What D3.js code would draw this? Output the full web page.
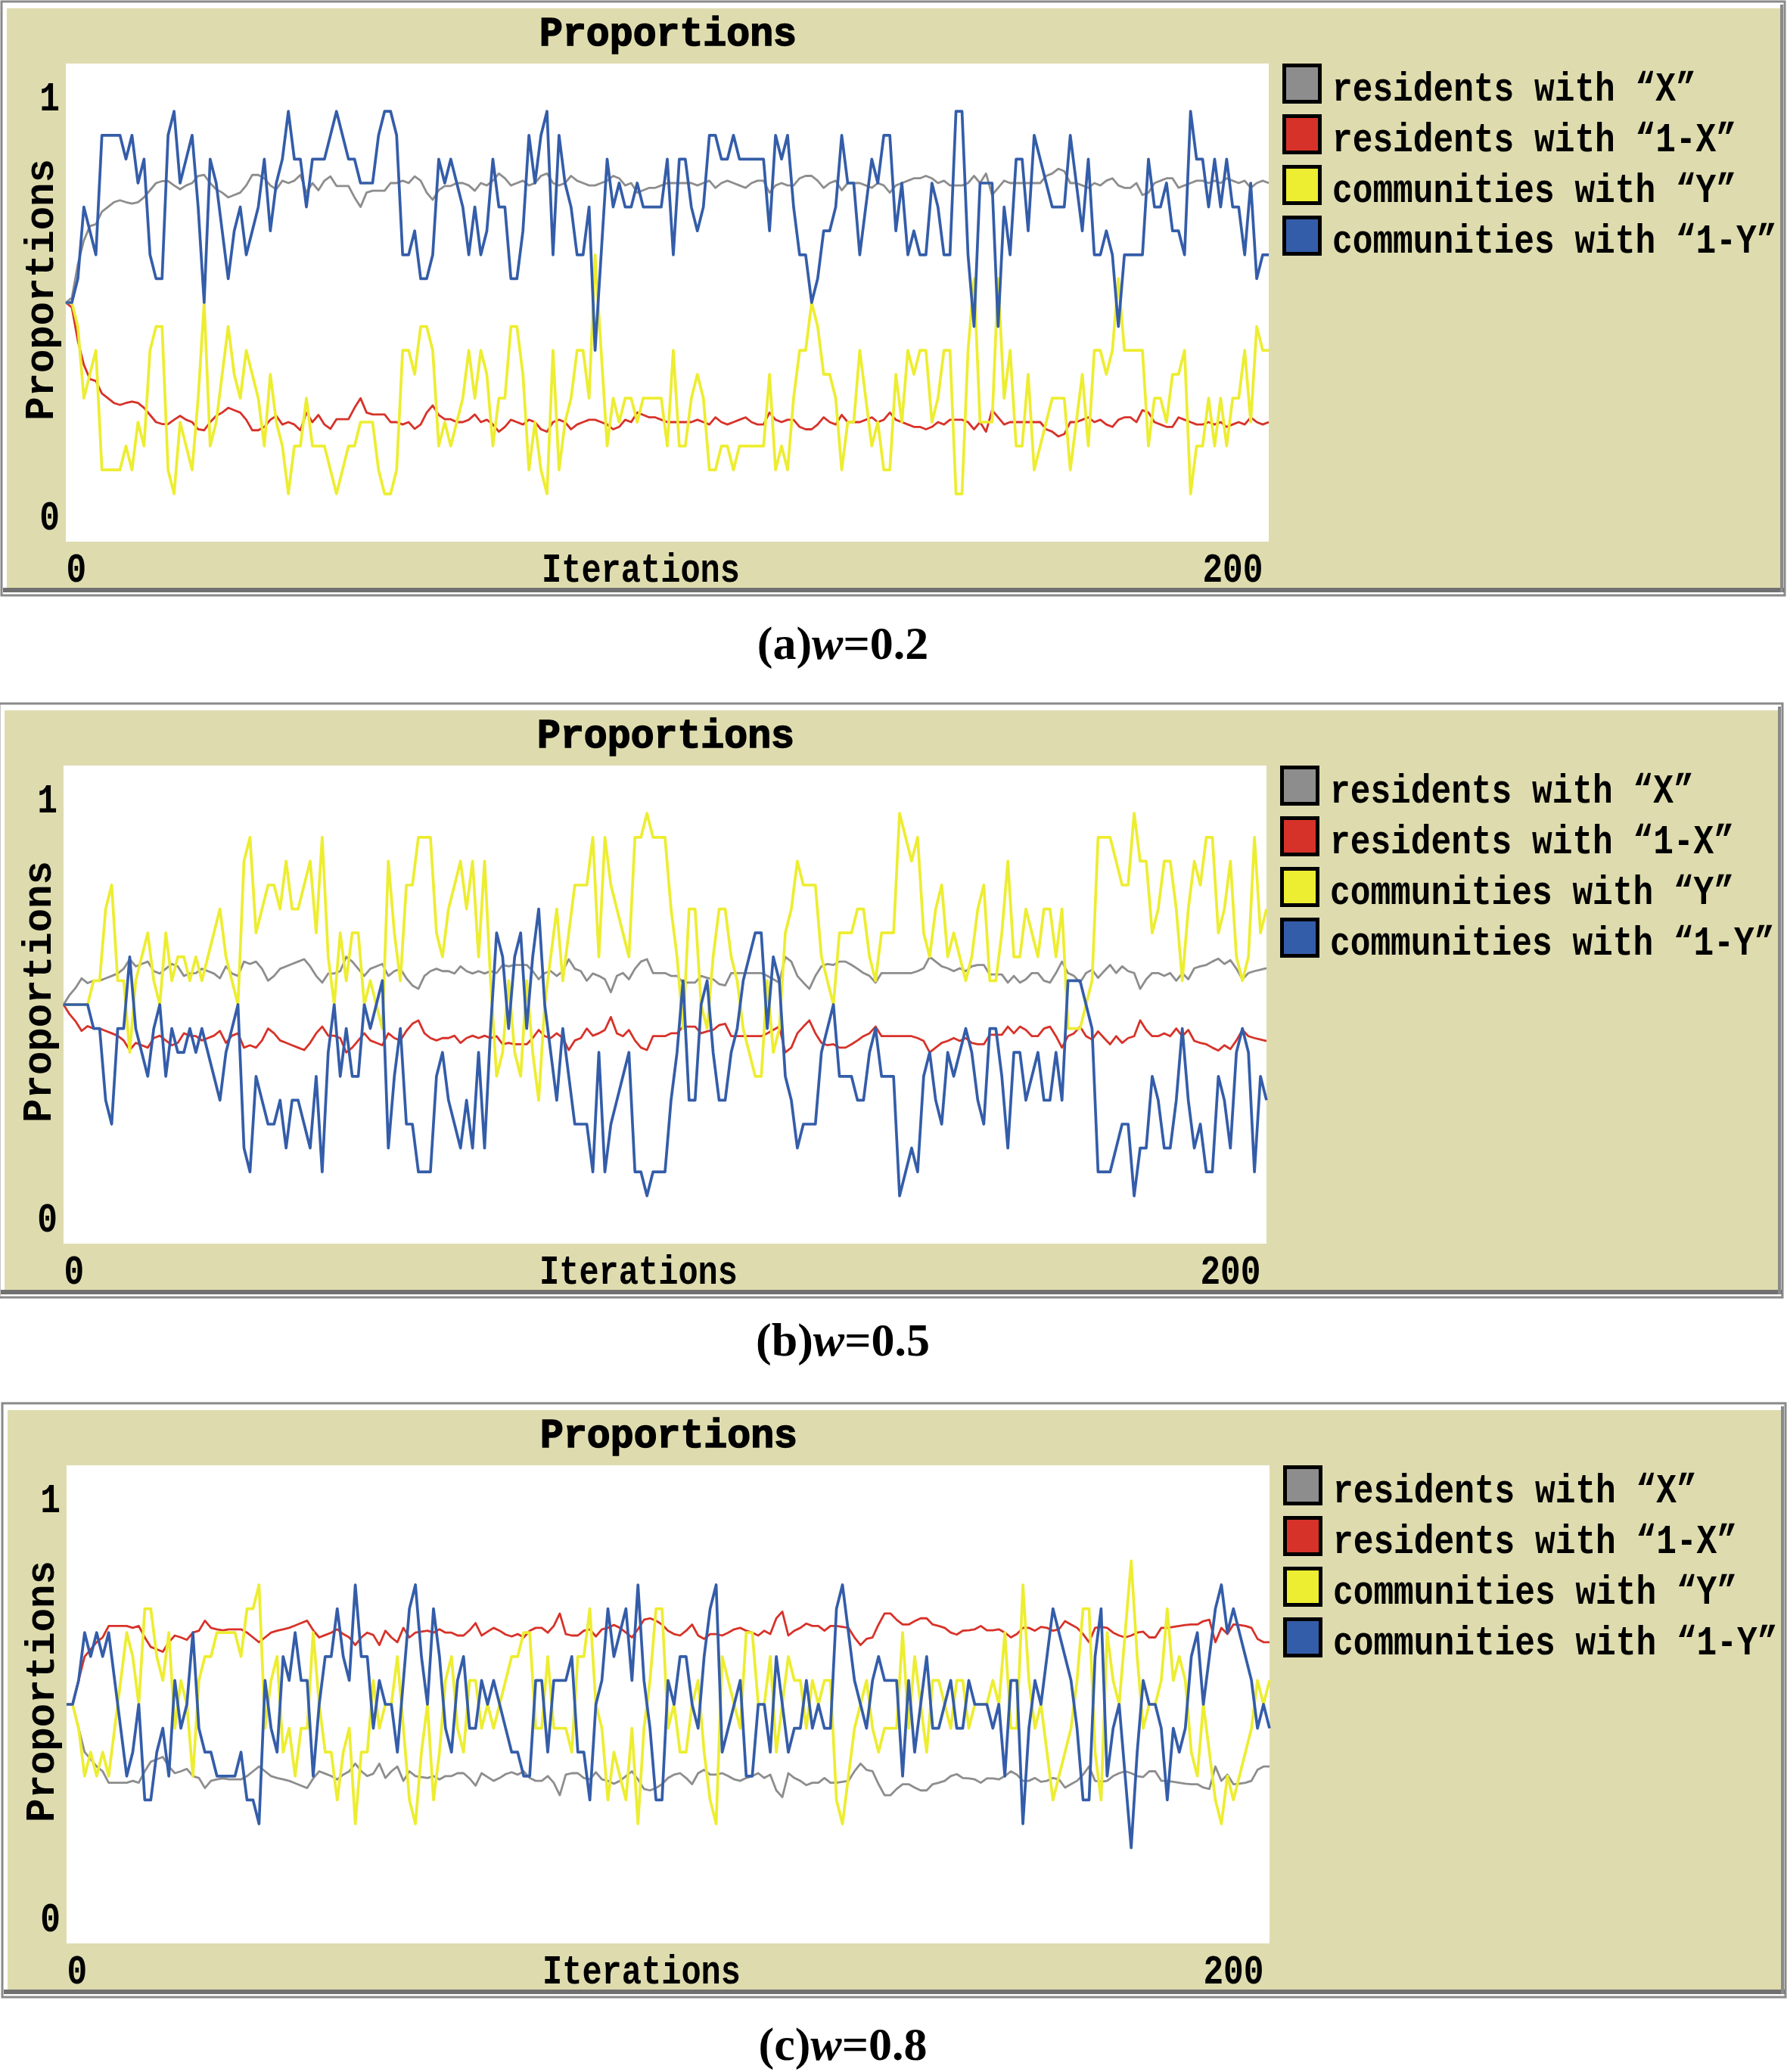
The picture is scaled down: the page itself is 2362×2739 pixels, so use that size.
<!DOCTYPE html>
<html><head><meta charset="utf-8">
<script src="https://cdn.jsdelivr.net/npm/d3@7"></script>
<style>body{margin:0;background:#fff}</style>
</head><body>
<script>
// ---------------- DATA ----------------
const iterations = d3.range(0, 201);
const seriesNames = ['residents with “X”', 'residents with “1-X”', 'communities with “Y”', 'communities with “1-Y”'];
const chartTitle = 'Proportions';
const yAxisLabel = 'Proportions';
const xAxisLabel = 'Iterations';
const xTickValues = [0, 200];
const xTickLabels = ['0', '200'];
const yTickValues = [0, 1];
const yTickLabels = ['0', '1'];
const captionLetters = ['(a)', '(b)', '(c)'];
const captionWeights = ['0.2', '0.5', '0.8'];

// ---- panel (a) w=0.2 ----
const grayA = [
.5,.51,.58,.63,.66,.664,.69,.70,.71,.714,
.71,.707,.71,.72,.735,.75,.754,.754,.745,.737,
.745,.75,.765,.767,.75,.737,.73,.72,.725,.73,
.745,.767,.767,.76,.745,.737,.755,.75,.755,.767,
.73,.75,.735,.755,.764,.744,.744,.744,.72,.70,
.73,.734,.734,.734,.75,.75,.755,.75,.764,.755,
.73,.715,.735,.744,.744,.75,.75,.745,.734,.75,
.745,.755,.77,.76,.745,.75,.755,.745,.75,.765,
.77,.75,.745,.75,.765,.755,.75,.745,.745,.75,
.755,.765,.76,.745,.75,.73,.735,.74,.74,.745,
.75,.75,.75,.75,.75,.745,.75,.755,.74,.75,
.755,.75,.745,.74,.75,.755,.755,.73,.745,.75,
.745,.745,.76,.765,.765,.755,.74,.75,.755,.735,
.75,.75,.75,.745,.74,.75,.745,.73,.745,.75,
.755,.76,.76,.765,.76,.75,.755,.745,.745,.745,
.75,.765,.75,.77,.725,.74,.755,.75,.75,.75,
.75,.75,.75,.765,.77,.78,.775,.75,.75,.745,
.74,.75,.745,.755,.76,.745,.74,.74,.75,.725,
.73,.75,.755,.76,.76,.74,.745,.75,.755,.755,
.75,.755,.75,.76,.755,.75,.755,.74,.75,.755,
.75];
const redA = [
.5,.49,.42,.37,.34,.336,.31,.30,.29,.286,
.29,.293,.29,.28,.265,.25,.246,.246,.255,.263,
.255,.25,.235,.233,.25,.263,.27,.28,.275,.27,
.255,.233,.233,.24,.255,.263,.245,.25,.245,.233,
.27,.25,.265,.245,.236,.256,.256,.256,.28,.30,
.27,.266,.266,.266,.25,.25,.245,.25,.236,.245,
.27,.285,.265,.256,.256,.25,.25,.255,.266,.25,
.255,.245,.23,.24,.255,.25,.245,.255,.25,.235,
.23,.25,.255,.25,.235,.245,.25,.255,.255,.25,
.245,.235,.24,.255,.25,.27,.265,.26,.26,.255,
.25,.25,.25,.25,.25,.255,.25,.245,.26,.25,
.245,.25,.255,.26,.25,.245,.245,.27,.255,.25,
.255,.255,.24,.235,.235,.245,.26,.25,.245,.265,
.25,.25,.25,.255,.26,.25,.255,.27,.255,.25,
.245,.24,.24,.235,.24,.25,.245,.255,.255,.255,
.25,.235,.25,.23,.275,.26,.245,.25,.25,.25,
.25,.25,.25,.235,.23,.22,.225,.25,.25,.255,
.26,.25,.255,.245,.24,.255,.26,.26,.25,.275,
.27,.25,.245,.24,.24,.26,.255,.25,.245,.245,
.25,.245,.25,.24,.245,.25,.245,.26,.25,.245,
.25];
const yellowA = [
.5,.5,.45,.3,.35,.4,.15,.15,.15,.15,
.2,.15,.25,.2,.4,.45,.45,.15,.1,.25,
.2,.15,.3,.5,.2,.25,.35,.45,.35,.3,
.4,.35,.3,.2,.35,.25,.2,.1,.2,.2,
.3,.2,.2,.2,.15,.1,.15,.2,.2,.25,
.25,.25,.15,.1,.1,.15,.4,.4,.35,.45,
.45,.4,.2,.25,.2,.25,.3,.4,.3,.4,
.35,.2,.3,.3,.45,.45,.35,.15,.25,.15,
.1,.4,.15,.25,.3,.4,.4,.3,.6,.4,
.2,.3,.25,.3,.3,.25,.3,.3,.3,.3,
.2,.4,.2,.2,.3,.35,.3,.15,.15,.2,
.2,.15,.2,.2,.2,.2,.2,.35,.15,.2,
.15,.3,.4,.4,.5,.45,.35,.35,.3,.15,
.25,.25,.4,.3,.2,.25,.15,.15,.35,.25,
.4,.35,.4,.4,.25,.3,.4,.4,.1,.1,
.4,.55,.25,.25,.25,.55,.3,.4,.2,.2,
.35,.15,.2,.25,.3,.3,.3,.15,.25,.35,
.2,.4,.4,.35,.4,.55,.4,.4,.4,.4,
.2,.3,.3,.25,.35,.35,.4,.1,.2,.2,
.3,.2,.3,.2,.3,.3,.4,.25,.45,.4,
.4];
const blueA = [
.5,.5,.55,.7,.65,.6,.85,.85,.85,.85,
.8,.85,.75,.8,.6,.55,.55,.85,.9,.75,
.8,.85,.7,.5,.8,.75,.65,.55,.65,.7,
.6,.65,.7,.8,.65,.75,.8,.9,.8,.8,
.7,.8,.8,.8,.85,.9,.85,.8,.8,.75,
.75,.75,.85,.9,.9,.85,.6,.6,.65,.55,
.55,.6,.8,.75,.8,.75,.7,.6,.7,.6,
.65,.8,.7,.7,.55,.55,.65,.85,.75,.85,
.9,.6,.85,.75,.7,.6,.6,.7,.4,.6,
.8,.7,.75,.7,.7,.75,.7,.7,.7,.7,
.8,.6,.8,.8,.7,.65,.7,.85,.85,.8,
.8,.85,.8,.8,.8,.8,.8,.65,.85,.8,
.85,.7,.6,.6,.5,.55,.65,.65,.7,.85,
.75,.75,.6,.7,.8,.75,.85,.85,.65,.75,
.6,.65,.6,.6,.75,.7,.6,.6,.9,.9,
.6,.45,.75,.75,.75,.45,.7,.6,.8,.8,
.65,.85,.8,.75,.7,.7,.7,.85,.75,.65,
.8,.6,.6,.65,.6,.45,.6,.6,.6,.6,
.8,.7,.7,.75,.65,.65,.6,.9,.8,.8,
.7,.8,.7,.8,.7,.7,.6,.75,.55,.6,
.6];

// ---- panel (b) w=0.5 ----
const grayB = [
.5,.52,.535,.555,.545,.55,.55,.555,.56,.565,
.575,.595,.58,.585,.59,.57,.565,.575,.585,.58,
.56,.565,.566,.575,.57,.565,.555,.58,.565,.56,
.59,.585,.59,.575,.55,.56,.575,.58,.585,.59,
.595,.58,.56,.546,.565,.565,.57,.6,.59,.575,
.56,.575,.58,.585,.56,.57,.575,.555,.54,.533,
.56,.57,.575,.57,.57,.565,.58,.57,.565,.57,
.565,.57,.566,.583,.58,.583,.583,.583,.57,.553,
.566,.57,.56,.57,.595,.575,.57,.55,.565,.56,
.553,.526,.56,.566,.553,.575,.59,.595,.566,.566,
.566,.56,.56,.546,.546,.546,.56,.556,.553,.543,
.54,.566,.566,.566,.566,.566,.566,.56,.553,.546,
.6,.59,.56,.546,.533,.56,.58,.585,.583,.59,
.59,.583,.575,.566,.56,.546,.566,.566,.566,.566,
.566,.566,.57,.576,.6,.59,.58,.576,.57,.576,
.57,.58,.583,.583,.563,.563,.563,.546,.56,.546,
.553,.566,.566,.55,.546,.566,.59,.566,.56,.546,
.566,.573,.556,.57,.583,.566,.58,.57,.566,.533,
.553,.566,.566,.56,.566,.55,.566,.553,.576,.58,
.583,.59,.596,.585,.593,.575,.553,.566,.57,.573,
.576];
const redB = [
.5,.48,.465,.445,.455,.45,.45,.445,.44,.435,
.425,.405,.42,.415,.41,.43,.435,.425,.415,.42,
.44,.435,.434,.425,.43,.435,.445,.42,.435,.44,
.41,.415,.41,.425,.45,.44,.425,.42,.415,.41,
.405,.42,.44,.454,.435,.435,.43,.40,.41,.425,
.44,.425,.42,.415,.44,.43,.425,.445,.46,.467,
.44,.43,.425,.43,.43,.435,.42,.43,.435,.43,
.435,.43,.434,.417,.42,.417,.417,.417,.43,.447,
.434,.43,.44,.43,.405,.425,.43,.45,.435,.44,
.447,.474,.44,.434,.447,.425,.41,.405,.434,.434,
.434,.44,.44,.454,.454,.454,.44,.444,.447,.457,
.46,.434,.434,.434,.434,.434,.434,.44,.447,.454,
.40,.41,.44,.454,.467,.44,.42,.415,.417,.41,
.41,.417,.425,.434,.44,.454,.434,.434,.434,.434,
.434,.434,.43,.424,.40,.41,.42,.424,.43,.424,
.43,.42,.417,.417,.437,.437,.437,.454,.44,.454,
.447,.434,.434,.45,.454,.434,.41,.434,.44,.454,
.434,.427,.444,.43,.417,.434,.42,.43,.434,.467,
.447,.434,.434,.44,.434,.45,.434,.447,.424,.42,
.417,.41,.404,.415,.407,.425,.447,.434,.43,.427,
.424];
const yellowB = [
.5,.5,.5,.5,.5,.55,.55,.7,.75,.55,
.55,.4,.55,.6,.65,.55,.5,.65,.55,.6,
.6,.55,.6,.55,.6,.65,.7,.6,.55,.5,
.8,.85,.65,.7,.75,.75,.7,.8,.7,.7,
.75,.8,.65,.85,.6,.5,.65,.55,.65,.65,
.5,.55,.5,.45,.8,.65,.55,.75,.75,.85,
.85,.85,.65,.6,.7,.75,.8,.7,.8,.6,
.8,.55,.35,.4,.55,.4,.35,.55,.4,.3,
.5,.6,.7,.55,.65,.75,.75,.75,.85,.6,
.85,.75,.7,.65,.6,.85,.85,.9,.85,.85,
.85,.7,.6,.45,.7,.7,.5,.45,.6,.7,
.7,.6,.55,.45,.4,.35,.35,.55,.4,.45,
.65,.7,.8,.75,.75,.75,.6,.55,.5,.65,
.65,.65,.7,.7,.6,.55,.65,.65,.65,.9,
.85,.8,.85,.65,.6,.7,.75,.6,.65,.6,
.55,.6,.7,.75,.55,.55,.65,.8,.6,.6,
.7,.65,.6,.7,.7,.6,.7,.45,.45,.45,
.5,.55,.85,.85,.85,.8,.75,.75,.9,.8,
.8,.65,.7,.8,.8,.7,.55,.7,.8,.75,
.85,.85,.65,.7,.8,.6,.55,.6,.85,.65,
.7];
const blueB = [
.5,.5,.5,.5,.5,.45,.45,.3,.25,.45,
.45,.6,.45,.4,.35,.45,.5,.35,.45,.4,
.4,.45,.4,.45,.4,.35,.3,.4,.45,.5,
.2,.15,.35,.3,.25,.25,.3,.2,.3,.3,
.25,.2,.35,.15,.4,.5,.35,.45,.35,.35,
.5,.45,.5,.55,.2,.35,.45,.25,.25,.15,
.15,.15,.35,.4,.3,.25,.2,.3,.2,.4,
.2,.45,.65,.6,.45,.6,.65,.45,.6,.7,
.5,.4,.3,.45,.35,.25,.25,.25,.15,.4,
.15,.25,.3,.35,.4,.15,.15,.1,.15,.15,
.15,.3,.4,.55,.3,.3,.5,.55,.4,.3,
.3,.4,.45,.55,.6,.65,.65,.45,.6,.55,
.35,.3,.2,.25,.25,.25,.4,.45,.5,.35,
.35,.35,.3,.3,.4,.45,.35,.35,.35,.1,
.15,.2,.15,.35,.4,.3,.25,.4,.35,.4,
.45,.4,.3,.25,.45,.45,.35,.2,.4,.4,
.3,.35,.4,.3,.3,.4,.3,.55,.55,.55,
.5,.45,.15,.15,.15,.2,.25,.25,.1,.2,
.2,.35,.3,.2,.2,.3,.45,.3,.2,.25,
.15,.15,.35,.3,.2,.4,.45,.4,.15,.35,
.3];

// ---- panel (c) w=0.8 ----
const grayC = [
.5,.5,.45,.4,.385,.37,.36,.336,.336,.336,
.336,.34,.336,.36,.38,.385,.39,.37,.356,.36,
.365,.35,.346,.325,.34,.343,.345,.343,.343,.343,
.35,.36,.37,.36,.35,.346,.343,.34,.335,.33,
.325,.345,.36,.355,.35,.343,.353,.36,.376,.36,
.35,.355,.376,.346,.36,.37,.34,.36,.35,.348,
.346,.35,.343,.35,.35,.356,.356,.345,.33,.356,
.348,.34,.346,.354,.358,.353,.36,.346,.34,.34,
.35,.336,.31,.353,.356,.356,.346,.343,.358,.343,
.34,.334,.34,.35,.36,.343,.323,.32,.325,.333,
.346,.353,.356,.346,.333,.356,.363,.353,.353,.356,
.35,.343,.34,.346,.35,.356,.346,.353,.32,.306,
.356,.346,.34,.331,.336,.336,.346,.336,.336,.338,
.34,.36,.376,.363,.36,.333,.31,.31,.323,.333,
.333,.326,.32,.32,.333,.336,.34,.35,.354,.346,
.345,.343,.336,.345,.345,.343,.35,.36,.353,.34,
.34,.346,.338,.34,.346,.343,.326,.333,.34,.353,
.37,.34,.338,.34,.35,.356,.36,.356,.35,.348,
.36,.36,.34,.34,.338,.336,.334,.333,.333,.326,
.323,.37,.34,.353,.333,.334,.336,.34,.363,.37,
.37];
const redC = [
.5,.5,.55,.6,.615,.63,.64,.664,.664,.664,
.664,.66,.664,.64,.62,.615,.61,.63,.644,.64,
.635,.65,.654,.675,.66,.657,.655,.657,.657,.657,
.65,.64,.63,.64,.65,.654,.657,.66,.665,.67,
.675,.655,.64,.645,.65,.657,.647,.64,.624,.64,
.65,.645,.624,.654,.64,.63,.66,.64,.65,.652,
.654,.65,.657,.65,.65,.644,.644,.655,.67,.644,
.652,.66,.654,.646,.642,.647,.64,.654,.66,.66,
.65,.664,.69,.647,.644,.644,.654,.657,.642,.657,
.66,.666,.66,.65,.64,.657,.677,.68,.675,.667,
.654,.647,.644,.654,.667,.644,.637,.647,.647,.644,
.65,.657,.66,.654,.65,.644,.654,.647,.68,.694,
.644,.654,.66,.669,.664,.664,.654,.664,.664,.662,
.66,.64,.624,.637,.64,.667,.69,.69,.677,.667,
.667,.674,.68,.68,.667,.664,.66,.65,.646,.654,
.655,.657,.664,.655,.655,.657,.65,.64,.647,.66,
.66,.654,.662,.66,.654,.657,.674,.667,.66,.647,
.63,.66,.662,.66,.65,.644,.64,.644,.65,.652,
.64,.64,.66,.66,.662,.664,.666,.667,.667,.674,
.677,.63,.66,.647,.667,.666,.664,.66,.637,.63,
.63];
const yellowC = [
.5,.5,.45,.35,.4,.35,.4,.35,.45,.55,
.65,.6,.5,.7,.7,.6,.55,.65,.45,.55,
.5,.35,.55,.6,.6,.65,.65,.65,.65,.6,
.7,.7,.75,.45,.55,.6,.4,.45,.35,.45,
.45,.65,.5,.4,.4,.3,.4,.45,.25,.4,
.4,.55,.45,.5,.5,.6,.45,.3,.25,.4,
.5,.3,.4,.55,.6,.45,.4,.55,.55,.45,
.5,.45,.5,.55,.6,.6,.65,.65,.45,.45,
.6,.45,.45,.45,.4,.6,.6,.7,.5,.45,
.3,.4,.35,.3,.45,.25,.45,.55,.7,.7,
.45,.5,.4,.4,.5,.55,.4,.3,.25,.6,
.55,.5,.45,.65,.65,.5,.5,.6,.4,.5,
.6,.55,.55,.45,.55,.5,.55,.55,.3,.25,
.35,.45,.5,.55,.45,.4,.45,.45,.45,.65,
.45,.6,.5,.4,.55,.55,.5,.45,.55,.55,
.45,.5,.5,.5,.55,.5,.65,.45,.45,.75,
.55,.45,.5,.4,.3,.35,.4,.45,.55,.7,
.7,.4,.3,.65,.55,.5,.65,.8,.6,.45,
.5,.5,.55,.7,.55,.6,.55,.4,.35,.5,
.4,.3,.25,.35,.3,.35,.4,.45,.55,.5,
.55];
const blueC = [
.5,.5,.55,.65,.6,.65,.6,.65,.55,.45,
.35,.4,.5,.3,.3,.4,.45,.35,.55,.45,
.5,.65,.45,.4,.4,.35,.35,.35,.35,.4,
.3,.3,.25,.55,.45,.4,.6,.55,.65,.55,
.55,.35,.5,.6,.6,.7,.6,.55,.75,.6,
.6,.45,.55,.5,.5,.4,.55,.7,.75,.6,
.5,.7,.6,.45,.4,.55,.6,.45,.45,.55,
.5,.55,.5,.45,.4,.4,.35,.35,.55,.55,
.4,.55,.55,.55,.6,.4,.4,.3,.5,.55,
.7,.6,.65,.7,.55,.75,.55,.45,.3,.3,
.55,.5,.6,.6,.5,.45,.6,.7,.75,.4,
.45,.5,.55,.35,.35,.5,.5,.4,.6,.5,
.4,.45,.45,.55,.45,.5,.45,.45,.7,.75,
.65,.55,.5,.45,.55,.6,.55,.55,.55,.35,
.55,.4,.5,.6,.45,.45,.5,.55,.45,.45,
.55,.5,.5,.5,.45,.5,.35,.55,.55,.25,
.45,.55,.5,.6,.7,.65,.6,.55,.45,.3,
.3,.6,.7,.35,.45,.5,.35,.2,.4,.55,
.5,.5,.45,.3,.45,.4,.45,.6,.65,.5,
.6,.7,.75,.65,.7,.65,.6,.55,.45,.5,
.45];

// ---------------- STYLE / LAYOUT ----------------
const W = 2362, H = 2739;
const KHAKI = '#dedcae';
const COLORS = ['#8d8d8d', '#d73229', '#eded31', '#345da9'];
const WIDTHS = [2.8, 2.8, 3.7, 3.7];
const MONO = "'Liberation Mono','DejaVu Sans Mono',monospace";
const CHAR_W = 26.7;
const panelOffsets = [[0, 0], [-3, 928], [1, 1853]];
const captionBaselines = [871, 1792, 2723];
const PLOT = {x0: 87, x1: 1677, y0: 84, y1: 716};

const panelSeries = [
  [grayA, redA, yellowA, blueA],
  [grayB, redB, yellowB, blueB],
  [grayC, redC, yellowC, blueC]
];

const svg = d3.select('body').append('svg')
  .attr('width', W).attr('height', H).style('display', 'block');
svg.append('rect').attr('width', W).attr('height', H).attr('fill', '#fff');

const x = d3.scaleLinear().domain([0, 200]).range([PLOT.x0, PLOT.x1]);
const y = d3.scaleLinear().domain([0, 1]).range([PLOT.y1, PLOT.y0]);
const line = d3.line().x((d, i) => x(iterations[i])).y(d => y(d));

// monospaced label drawn at natural width then stretched vertically to mimic the tall bitmap font
function tallText(parent, str, tx, ty, anchor, rotate, bold) {
  const holder = parent.append('g')
    .attr('transform', `translate(${tx},${ty})` + (rotate ? ` rotate(${rotate})` : '') + ' scale(1,1.22)');
  return holder.append('text')
    .attr('x', 0).attr('y', 0)
    .attr('text-anchor', anchor)
    .attr('font-family', MONO).attr('font-size', 44.5)
    .attr('font-weight', bold ? 'bold' : 'bold')
    .attr('textLength', str.length * CHAR_W).attr('lengthAdjust', 'spacingAndGlyphs')
    .text(str);
}

panelSeries.forEach((series, k) => {
  const g = svg.append('g')
    .attr('transform', `translate(${panelOffsets[k][0]},${panelOffsets[k][1]})`);

  // widget frame
  g.append('rect').attr('x', 2).attr('y', 2).attr('width', 2357).attr('height', 785)
    .attr('fill', '#fff').attr('stroke', '#8a8a8a').attr('stroke-width', 3);
  g.append('rect').attr('x', 9).attr('y', 11).attr('width', 2345).attr('height', 766)
    .attr('fill', KHAKI);
  g.append('rect').attr('x', 4).attr('y', 777).attr('width', 2354).attr('height', 6)
    .attr('fill', '#707070');
  g.append('rect').attr('x', 2353).attr('y', 6).attr('width', 4).attr('height', 777)
    .attr('fill', '#8a8a8a');

  // plot background
  g.append('rect').attr('x', PLOT.x0).attr('y', PLOT.y0)
    .attr('width', PLOT.x1 - PLOT.x0).attr('height', PLOT.y1 - PLOT.y0)
    .attr('fill', '#fff');

  // lines
  series.forEach((vals, s) => {
    g.append('path').datum(vals)
      .attr('d', line)
      .attr('fill', 'none')
      .attr('stroke', COLORS[s])
      .attr('stroke-width', WIDTHS[s])
      .attr('stroke-linejoin', 'round');
  });

  // title
  g.append('text').attr('x', 883).attr('y', 60)
    .attr('text-anchor', 'middle')
    .attr('font-family', MONO).attr('font-size', 54).attr('font-weight', 'bold')
    .attr('stroke', '#000').attr('stroke-width', 1.6)
    .attr('textLength', 340).attr('lengthAdjust', 'spacingAndGlyphs')
    .text(chartTitle);

  // y axis label
  g.append('text').attr('transform', 'translate(70,383) rotate(-90)')
    .attr('text-anchor', 'middle')
    .attr('font-family', MONO).attr('font-size', 54).attr('font-weight', 'bold')
    .attr('textLength', 346).attr('lengthAdjust', 'spacingAndGlyphs')
    .text(yAxisLabel);

  // x axis label
  g.append('text').attr('x', 847).attr('y', 769)
    .attr('text-anchor', 'middle')
    .attr('font-family', MONO).attr('font-size', 54).attr('font-weight', 'bold')
    .attr('textLength', 262).attr('lengthAdjust', 'spacingAndGlyphs')
    .text(xAxisLabel);

  // x axis ticks
  const gx = g.append('g').attr('transform', `translate(0,${PLOT.y1})`)
    .call(d3.axisBottom(x).tickValues(xTickValues).tickSize(0)
      .tickFormat((d, i) => xTickLabels[i]));
  gx.select('.domain').remove();
  gx.attr('font-family', MONO).attr('font-size', 54).attr('font-weight', 'bold');
  gx.selectAll('text')
    .attr('y', 53).attr('dy', 0)
    .attr('fill', '#000')
    .attr('text-anchor', (d, i) => i === 0 ? 'start' : 'end')
    .attr('dx', (d, i) => i === 0 ? 0 : -8)
    .attr('textLength', (d, i) => xTickLabels[i].length * CHAR_W)
    .attr('lengthAdjust', 'spacingAndGlyphs');

  // y axis ticks
  const gy = g.append('g').attr('transform', `translate(${PLOT.x0},0)`)
    .call(d3.axisLeft(y).tickValues(yTickValues).tickSize(0).tickPadding(8)
      .tickFormat((d, i) => yTickLabels[i]));
  gy.select('.domain').remove();
  gy.attr('font-family', MONO).attr('font-size', 54).attr('font-weight', 'bold');
  gy.selectAll('text')
    .attr('fill', '#000')
    .attr('dy', d => d === 1 ? 61 : -17)
    .attr('textLength', (d, i) => yTickLabels[i].length * CHAR_W)
    .attr('lengthAdjust', 'spacingAndGlyphs');

  // legend
  seriesNames.forEach((name, s) => {
    g.append('rect')
      .attr('x', 1697.5).attr('y', 86.5 + 67 * s)
      .attr('width', 47).attr('height', 48)
      .attr('fill', COLORS[s]).attr('stroke', '#000').attr('stroke-width', 5);
    tallText(g, name, 1761, 133 + 67 * s, 'start', 0, true);
  });

  // caption
  const cap = svg.append('text')
    .attr('x', 1114).attr('y', captionBaselines[k])
    .attr('text-anchor', 'middle')
    .attr('font-family', "'Liberation Serif','Times New Roman',serif")
    .attr('font-size', 62).attr('font-weight', 'bold');
  cap.append('tspan').text(captionLetters[k]);
  cap.append('tspan').attr('font-style', 'italic').text('w');
  cap.append('tspan').text('=' + captionWeights[k]);
});
</script>
</body></html>
